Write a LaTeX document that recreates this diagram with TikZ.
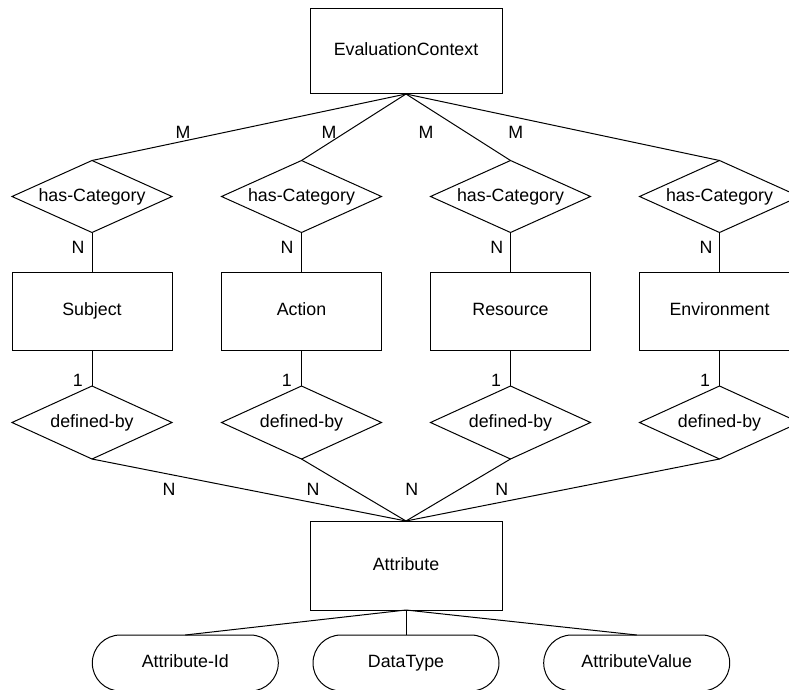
\documentclass[tikz,border=0pt]{standalone}
\usepackage{fontspec}
\setmainfont{Liberation Sans}
\usetikzlibrary{shapes.geometric}
\begin{document}
\begin{tikzpicture}[x=1pt,y=-1pt,
  every node/.style={font=\fontsize{17.8}{20}\selectfont},
  entity/.style={draw,rectangle,inner sep=0pt,outer sep=0pt,minimum width=160pt,minimum height=78pt,text height=12.8pt,text depth=3.8pt},
  bigentity/.style={entity,minimum width=192pt},
  relation/.style={draw,diamond,shape aspect=2.22,inner sep=0pt,outer sep=0pt,minimum width=160pt,minimum height=72pt,text height=12.8pt,text depth=3.8pt},
  attr/.style={draw,rectangle,rounded corners=28pt,inner sep=0pt,outer sep=0pt,minimum width=186pt,minimum height=56pt,text height=12.8pt,text depth=3.8pt},
  card/.style={inner sep=0pt},
  link/.style={draw,line width=1pt},
  line width=1pt]
\useasboundingbox (0,0) rectangle (789,690);
\clip (0,0) rectangle (789,690);

% top entity
\node[bigentity,minimum height=85pt] (ec) at (406,51.5) {EvaluationContext};

% category relations
\node[relation] (hc1) at (92,196.5)  {has-Category};
\node[relation] (hc2) at (301.5,196.5) {has-Category};
\node[relation] (hc3) at (510.5,196.5) {has-Category};
\node[relation] (hc4) at (719.5,196.5) {has-Category};

% category entities
\node[entity] (subj) at (92,311)  {Subject};
\node[entity] (act)  at (301.5,311) {Action};
\node[entity] (res)  at (510.5,311) {Resource};
\node[entity] (env)  at (719.5,311) {Environment};

% definition relations
\node[relation,minimum height=73pt] (db1) at (92,422.5)  {defined-by};
\node[relation,minimum height=73pt] (db2) at (301.5,422.5) {defined-by};
\node[relation,minimum height=73pt] (db3) at (510.5,422.5) {defined-by};
\node[relation,minimum height=73pt] (db4) at (719.5,422.5) {defined-by};

% attribute entity and its attributes
\node[bigentity,minimum height=89pt] (att) at (406,565.5) {Attribute};
\node[attr] (aid) at (185.3,663) {Attribute-Id};
\node[attr] (dt)  at (406,663) {DataType};
\node[attr] (av)  at (636.7,663) {AttributeValue};

% connectors
\foreach \h in {hc1,hc2,hc3,hc4} \draw[link] (ec.south) -- (\h.north);
\draw[link] (hc1.south) -- (subj.north);
\draw[link] (hc2.south) -- (act.north);
\draw[link] (hc3.south) -- (res.north);
\draw[link] (hc4.south) -- (env.north);
\draw[link] (subj.south) -- (db1.north);
\draw[link] (act.south) -- (db2.north);
\draw[link] (res.south) -- (db3.north);
\draw[link] (env.south) -- (db4.north);
\foreach \d in {db1,db2,db3,db4} \draw[link] (\d.south) -- (att.north);
\foreach \a in {aid,dt,av} \draw[link] (att.south) -- (\a.north);

% cardinalities
\node[card] (m1) at (183,132) {M};
\node[card] (m2) at (329,132) {M};
\node[card] (m3) at (426,132) {M};
\node[card] (m4) at (515.7,132) {M};
\node[card] (n1) at (78,247) {N};
\node[card] (n2) at (287,247) {N};
\node[card] (n3) at (496.7,247) {N};
\node[card] (n4) at (706,247) {N};
\node[card] (o1) at (77.7,380) {1};
\node[card] (o2) at (286.7,380) {1};
\node[card] (o3) at (496,380) {1};
\node[card] (o4) at (705,380) {1};
\node[card] (k1) at (169,489) {N};
\node[card] (k2) at (313,489) {N};
\node[card] (k3) at (411.7,489) {N};
\node[card] (k4) at (501.7,489) {N};
\end{tikzpicture}
\end{document}
